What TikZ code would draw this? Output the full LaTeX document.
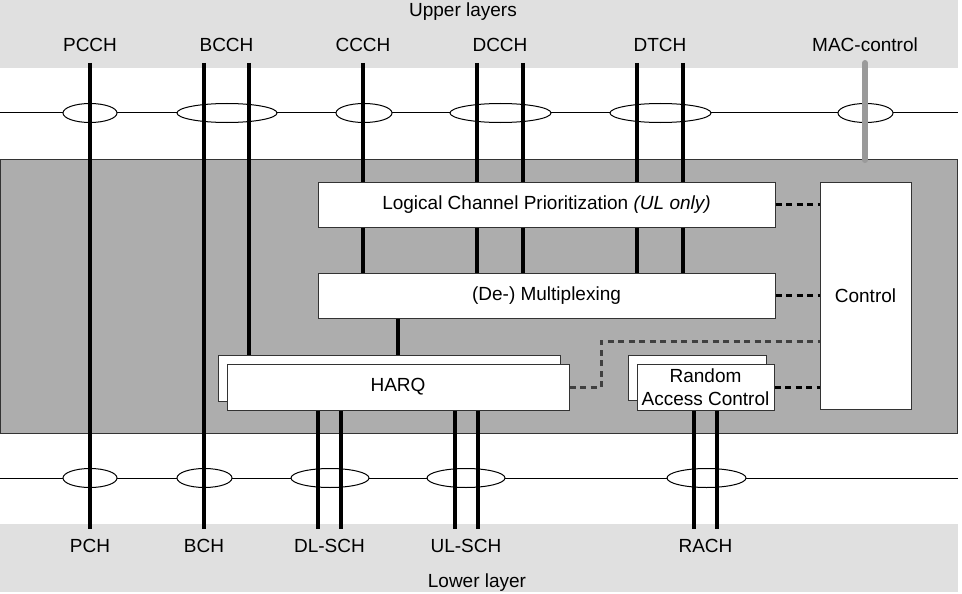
\documentclass[tikz,border=0pt]{standalone}
\usetikzlibrary{shapes.geometric}
\usepackage{fontspec}
\setmainfont{Liberation Sans}
\definecolor{layergray}{HTML}{E0E0E0}
\definecolor{macgray}{HTML}{ADADAD}
\definecolor{linegray}{HTML}{9A9A9A}
\begin{document}
\begin{tikzpicture}[x=1pt, y=-1pt, font=\fontsize{19}{23}\selectfont,
  box/.style={draw=black!80, line width=1pt, fill=white, inner sep=0pt},
  oval/.style={draw, fill=white, ellipse, line width=1pt, minimum height=19pt, inner sep=0pt},
  chan/.style={line width=3.5pt},
  ctrlline/.style={line width=3pt, dash pattern=on 6pt off 4.5pt},
  lbl/.style={anchor=base, inner sep=0pt}]
\useasboundingbox (0,0) rectangle (962,594);

% layer bands
\fill[layergray] (0,0) rectangle (958,68);
\fill[layergray] (0,524) rectangle (958,592);
\draw[fill=macgray, draw=black!80, line width=1pt] (0,159) rectangle (957,433);

% upper and lower bus
\coordinate (ubus-w) at (0,113);  \coordinate (ubus-e) at (958,113);
\coordinate (lbus-w) at (0,478);  \coordinate (lbus-e) at (958,478);
\draw[line width=1pt] (ubus-w) -- (ubus-e);
\draw[line width=1pt] (lbus-w) -- (lbus-e);

\node[oval, minimum width=54pt]  (o-pcch) at (90,113)    {};
\node[oval, minimum width=100pt] (o-bcch) at (227,113)   {};
\node[oval, minimum width=56pt]  (o-ccch) at (364,113)   {};
\node[oval, minimum width=101pt] (o-dcch) at (500.5,113) {};
\node[oval, minimum width=101pt] (o-dtch) at (660.5,113) {};
\node[oval, minimum width=55pt]  (o-mac)  at (865.5,113) {};

\node[oval, minimum width=54pt] (o-pch)   at (90,478)    {};
\node[oval, minimum width=55pt] (o-bch)   at (204.5,478) {};
\node[oval, minimum width=78pt] (o-dlsch) at (330,478)   {};
\node[oval, minimum width=78pt] (o-ulsch) at (466,478)   {};
\node[oval, minimum width=79pt] (o-rach)  at (706.5,478) {};

% MAC entities
\node[box, minimum width=457pt, minimum height=45pt] (lcp) at (546.5,204.5)
  {Logical Channel Prioritization \textit{(UL only)}};
\node[box, minimum width=457pt, minimum height=45pt] (mux) at (546.5,295.5) {(De-) Multiplexing};
\node[box, minimum width=91pt, minimum height=227pt] (ctrl) at (865.5,295.5) {Control};
\node[box, minimum width=342pt, minimum height=46pt] (harqb) at (389,378) {};
\node[box, minimum width=342pt, minimum height=46pt] (harq) at (398,387) {HARQ};
\node[box, minimum width=138pt, minimum height=45pt] (racb) at (697,377.5) {};
\node[box, minimum width=137pt, minimum height=46pt, align=center] (rac) at (705.5,387)
  {Random\\Access Control};

% channels
\coordinate (pcch-t) at (90,63);   \coordinate (pch-b) at (90,529);
\coordinate (bcch-t) at (204,63);  \coordinate (bch-b) at (204,529);
\coordinate (bcch-t2) at (249,63);
\draw[chan] (pcch-t) -- (pch-b);
\draw[chan] (bcch-t) -- (bch-b);
\draw[chan] (bcch-t2) -- (bcch-t2 |- harqb.north);
\foreach \n/\x in {ccch/363, dcch1/477, dcch2/523, dtch1/637, dtch2/683} {
  \coordinate (\n-t) at (\x,63);
  \draw[chan] (\n-t) -- (\n-t |- lcp.north);
  \draw[chan] (\n-t |- lcp.south) -- (\n-t |- mux.north);
}
\draw[chan] (harq.north |- mux.south) -- (harq.north |- harqb.north);
\foreach \n/\x in {dlsch1/318, dlsch2/341, ulsch1/455, ulsch2/478} {
  \coordinate (\n-b) at (\x,529);
  \draw[chan] (\n-b |- harq.south) -- (\n-b);
}
\foreach \n/\x in {rach1/694, rach2/717} {
  \coordinate (\n-b) at (\x,529);
  \draw[chan] (\n-b |- rac.south) -- (\n-b);
}
\coordinate (mac-t) at (865,63);
\draw[linegray, line width=6pt, line cap=round] (mac-t) -- (mac-t |- 0,160);

% control connections
\coordinate (bend) at (601,341);
\draw[ctrlline] (lcp.east) -- (lcp.east -| ctrl.west);
\draw[ctrlline] (mux.east) -- (mux.east -| ctrl.west);
\draw[ctrlline] (rac.east) -- (rac.east -| ctrl.west);
\draw[ctrlline, black!75] (harq.east) -| (bend) -- (bend -| ctrl.west);

% labels
\node[lbl] (upper) at (463,17) {Upper layers};
\node[lbl] (pcch) at (90,52)    {PCCH};
\node[lbl] (bcch) at (226.5,52) {BCCH};
\node[lbl] (ccch) at (363,52)   {CCCH};
\node[lbl] (dcch) at (500,52)   {DCCH};
\node[lbl] (dtch) at (660,52)   {DTCH};
\node[lbl] (mac)  at (865,52)   {MAC-control};

\node[lbl] (pch)   at (90,552)    {PCH};
\node[lbl] (bch)   at (204,552)   {BCH};
\node[lbl] (dlsch) at (329.5,552) {DL-SCH};
\node[lbl] (ulsch) at (466,552)   {UL-SCH};
\node[lbl] (rach)  at (705.5,552) {RACH};
\node[lbl] (lower) at (477,587)   {Lower layer};
\end{tikzpicture}
\end{document}
